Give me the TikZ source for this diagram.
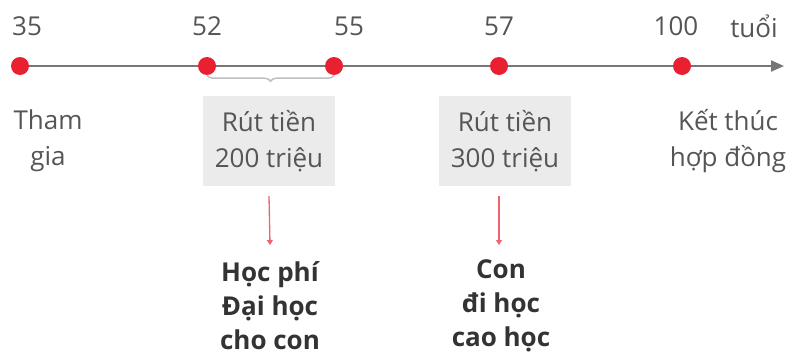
\documentclass[tikz,border=0pt]{standalone}
\usepackage{fontspec}
\setmainfont{Open Sans}
\usetikzlibrary{decorations.pathreplacing,arrows.meta}
\definecolor{dotred}{HTML}{E8202F}
\definecolor{axisgray}{HTML}{777777}
\definecolor{boxgray}{HTML}{EBEBEB}
\definecolor{txtgray}{HTML}{555555}
\definecolor{darktxt}{HTML}{333333}
\tikzset{
  age/.style={text=txtgray,font=\fontsize{26}{28}\selectfont},
  dot/.style={circle,fill=dotred,inner sep=0pt,minimum size=18pt},
  withdraw/.style={fill=boxgray,text=txtgray,align=center,minimum width=132pt,minimum height=90pt,
    font=\fontsize{26}{36}\selectfont},
  note/.style={text=txtgray,align=center,font=\fontsize{26}{36}\selectfont},
  goal/.style={text=darktxt,align=center,font=\bfseries\fontsize{26}{34}\selectfont}
}
\begin{document}
\begin{tikzpicture}[x=1pt,y=-1pt]
	\useasboundingbox (0,0) rectangle (794,359);
	% time axis
	\coordinate (start) at (20,66);
	\coordinate (end) at (784,66);
	\draw[axisgray,line width=2.2pt,-{Triangle[length=13pt,width=11pt]}] (start) -- (end);
	\foreach \n/\x in {a/20,b/207,c/334,d/499,e/682}
		\node[dot] (\n) at (\x,66) {};
	\node[age] (l35) at (27,26) {35};
	\node[age] (l52) at (207,26) {52};
	\node[age] (l55) at (349,26) {55};
	\node[age] (l57) at (499,26) {57};
	\node[age] (l100) at (676,26) {100};
	\node[age] (tuoi) at (754,26) {tuổi};
	% brace under 52--55
	\draw[gray!50,line width=1.5pt,decorate,decoration={brace,mirror,amplitude=6pt,aspect=0.5}]
		(b.south) -- (c.south);
	% withdrawals
	\node[withdraw] (w1) at (269,141) {Rút tiền\\200 triệu};
	\node[withdraw] (w2) at (505,141) {Rút tiền\\300 triệu};
	\node[note] (join) at (48,141) {Tham\\gia};
	\node[note] (finish) at (728,141) {Kết thúc\\hợp đồng};
	% purposes
	\node[goal] (g1) at (270,306) {Học phí\\Đại học\\cho con};
	\node[goal] (g2) at (501,306) {Con\\đi học\\cao học};
	\draw[dotred!70,line width=1.3pt,-{Triangle[length=5pt,width=6pt]}] (w1.south)+(0,10) -- (270,245);
	\draw[dotred!70,line width=1.3pt,-{Triangle[length=5pt,width=6pt]}] (w2.south)+(-6,10) -- (499,245);
\end{tikzpicture}
\end{document}
